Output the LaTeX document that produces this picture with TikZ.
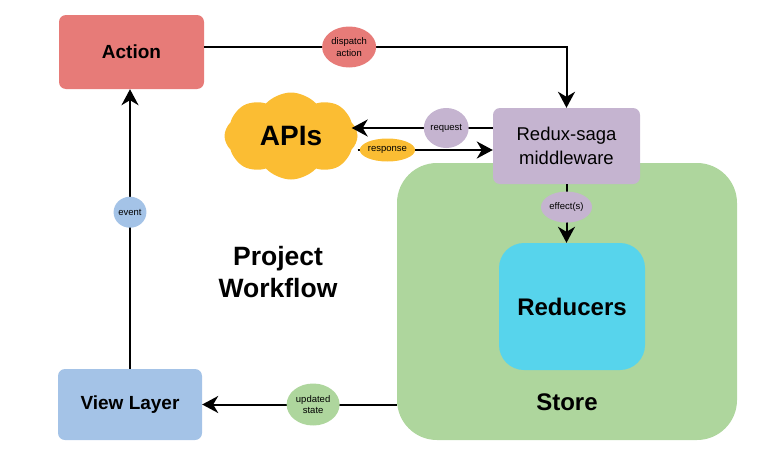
\documentclass[tikz,border=0pt]{standalone}
\usepackage{fontspec}
\setmainfont{Liberation Sans}
\usetikzlibrary{shapes.geometric,shapes.symbols,arrows.meta}
\definecolor{actionred}{HTML}{E77B78}
\definecolor{sagapurple}{HTML}{C5B4D0}
\definecolor{apiyellow}{HTML}{FBBD33}
\definecolor{storegreen}{HTML}{AED69D}
\definecolor{reducercyan}{HTML}{57D4EC}
\definecolor{viewblue}{HTML}{A4C3E7}

\begin{document}
\begin{tikzpicture}[x=1pt,y=-1pt,
       box/.style={rectangle,rounded corners=7pt,inner sep=0pt,align=center},
       tag/.style={ellipse,inner sep=0pt,align=center,font=\fontsize{9.5}{11.5}\selectfont},
       link/.style={line width=2pt,-{Stealth[length=16pt,width=17pt,inset=5pt]}},
       big/.style={font=\fontsize{19}{24}\selectfont\bfseries}]
       \useasboundingbox (0,0) rectangle (762,463);

       \node[box,fill=storegreen,rounded corners=40pt,minimum width=340,minimum height=277] (store) at (567,301.5) {};
       \node[font=\fontsize{24}{28}\selectfont\bfseries] (storetext) at (567,402) {Store};
       \node[box,fill=reducercyan,rounded corners=25pt,minimum width=146,minimum height=127,font=\fontsize{24}{28}\selectfont\bfseries] (reducers) at (572,306.5) {Reducers};

       \node[box,fill=actionred,minimum width=145,minimum height=74,big] (action) at (131.5,52) {Action};
       \node[box,fill=sagapurple,minimum width=147,minimum height=76,font=\fontsize{18.5}{24}\selectfont] (saga) at (566.5,146) {Redux-saga\\middleware};
       \node[cloud,cloud puffs=8,cloud puff arc=95,aspect=1.5,fill=apiyellow,inner sep=0pt,minimum width=133,minimum height=87,font=\fontsize{28}{32}\selectfont\bfseries] (apis) at (291,136) {APIs};
       \node[box,fill=viewblue,minimum width=144,minimum height=71,big] (view) at (130,404.5) {View Layer};
       \node[align=center,font=\fontsize{26.5}{32}\selectfont\bfseries] (workflow) at (278,272) {Project\\Workflow};

       \draw[link] ([yshift=5pt]action.east) -| node[tag,fill=actionred,minimum width=54,minimum height=41,pos=0.2] (dispatch) {dispatch\\action} (saga.north);
       \draw[link] ([yshift=18pt]saga.west) coordinate (reqstart) -- node[tag,fill=sagapurple,minimum width=40,minimum height=40,pos=0.33] (request) {request} ([xshift=-6pt]reqstart -| apis.east);
       \draw[link] ([yshift=-4pt]saga.west -| apis.east) coordinate (respstart) -- node[tag,fill=apiyellow,minimum width=51,minimum height=23,pos=0.22] (response) {response} (respstart -| saga.west);
       \draw[link] (saga.south) -- node[tag,fill=sagapurple,minimum width=51,minimum height=31,pos=0.39] (effects) {effect(s)} (saga.south |- reducers.north);
       \draw[link] (store.west |- view.east) -- node[tag,fill=storegreen,minimum width=53,minimum height=42,pos=0.43] (updated) {updated\\state} (view.east);
       \draw[link] (view.north) -- node[tag,fill=viewblue,minimum width=32,minimum height=31,pos=0.56] (event) {event} (view.north |- action.south);
\end{tikzpicture}
\end{document}
